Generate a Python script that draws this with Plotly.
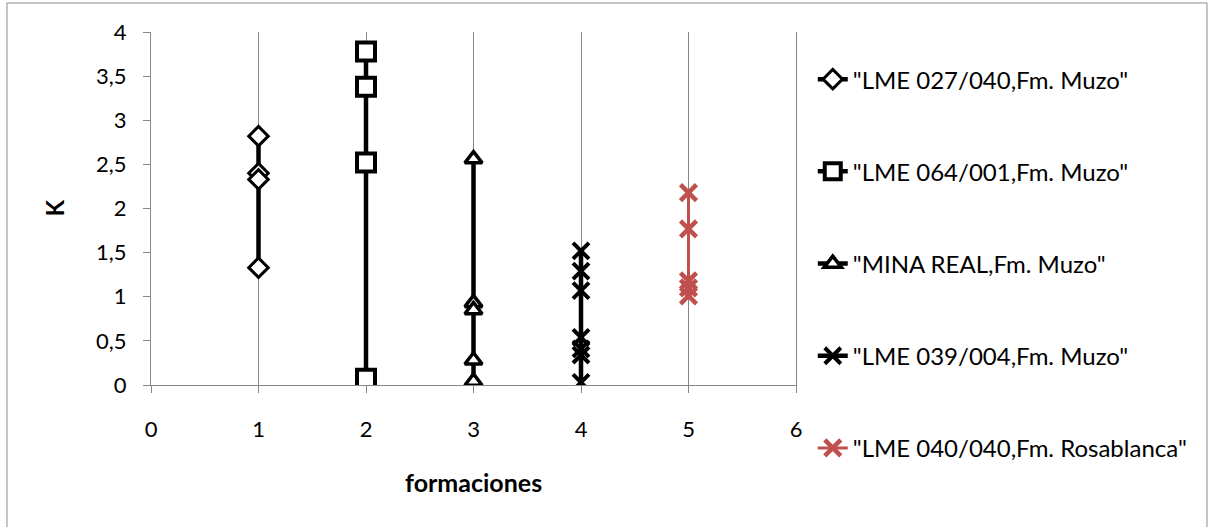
import plotly.graph_objects as go

# K values per formation sample
s1_name = '"LME 027/040,Fm. Muzo"'
s1_x = [1, 1, 1, 1]
s1_y = [2.82, 2.40, 2.33, 1.33]

s2_name = '"LME 064/001,Fm. Muzo"'
s2_x = [2, 2, 2, 2]
s2_y = [3.78, 3.38, 2.52, 0.07]

s3_name = '"MINA REAL,Fm. Muzo"'
s3_x = [3, 3, 3, 3, 3]
s3_y = [2.56, 0.93, 0.85, 0.28, 0.04]

s4_name = '"LME 039/004,Fm. Muzo"'
s4_x = [4, 4, 4, 4, 4, 4, 4]
s4_y = [1.52, 1.29, 1.07, 0.54, 0.41, 0.34, 0.03]

s5_name = '"LME 040/040,Fm. Rosablanca"'
s5_x = [5, 5, 5, 5, 5]
s5_y = [2.18, 1.77, 1.18, 1.10, 1.01]

x_ticks = [0, 1, 2, 3, 4, 5, 6]
x_labels = ["0", "1", "2", "3", "4", "5", "6"]
y_ticks = [0, 0.5, 1, 1.5, 2, 2.5, 3, 3.5, 4]
y_labels = ["0", "0,5", "1", "1,5", "2", "2,5", "3", "3,5", "4"]

FONT = "Lato"
BLACK = "#000000"
RED = "#C0504D"
GREY = "#868686"

fig = go.Figure()

fig.add_trace(go.Scatter(
    x=s1_x, y=s1_y, name=s1_name, mode="lines+markers", legendgroup="a",
    line=dict(color=BLACK, width=4.5),
    marker=dict(symbol="diamond", size=15, color="white",
                line=dict(color=BLACK, width=3))))
fig.add_trace(go.Scatter(
    x=s2_x, y=s2_y, name=s2_name, mode="lines+markers", legendgroup="b",
    line=dict(color=BLACK, width=4.5),
    marker=dict(symbol="square", size=18, color="white",
                line=dict(color=BLACK, width=4))))
fig.add_trace(go.Scatter(
    x=s3_x, y=s3_y, name=s3_name, mode="lines+markers", legendgroup="c",
    line=dict(color=BLACK, width=4.5),
    marker=dict(symbol="triangle-up", size=15, color="white",
                line=dict(color=BLACK, width=3.5))))
fig.add_trace(go.Scatter(
    x=s4_x, y=s4_y, name=s4_name, mode="lines+markers", legendgroup="d",
    line=dict(color=BLACK, width=4.5),
    marker=dict(symbol="x-thin", size=16, color=BLACK,
                line=dict(color=BLACK, width=4))))
fig.add_trace(go.Scatter(
    x=s5_x, y=s5_y, name=s5_name, mode="lines+markers", legendgroup="e",
    line=dict(color=RED, width=3),
    marker=dict(symbol="x-thin", size=16, color=RED,
                line=dict(color=RED, width=4.5))))

# outer chart frame
fig.add_shape(type="rect", xref="paper", yref="paper",
              x0=-0.2233, x1=1.6372, y0=-0.42, y1=1.0822,
              line=dict(color="#8C8C8C", width=1), fillcolor="rgba(0,0,0,0)",
              layer="below")

fig.add_annotation(text="<b>K</b>", xref="paper", yref="paper",
                   x=0, y=0.5, xshift=-97, xanchor="center", yanchor="middle",
                   textangle=-90, showarrow=False,
                   font=dict(family=FONT, size=24, color=BLACK))
fig.add_annotation(text="<b>formaciones</b>", xref="paper", yref="paper",
                   x=0.5, y=0, yshift=-97, xanchor="center", yanchor="middle",
                   showarrow=False,
                   font=dict(family=FONT, size=25, color=BLACK))

fig.update_layout(
    width=1211, height=527,
    margin=dict(l=151, r=415, t=32, b=142),
    paper_bgcolor="white", plot_bgcolor="white",
    font=dict(family=FONT, size=22, color=BLACK),
    showlegend=True,
    legend=dict(x=1.026, xanchor="left", y=0.929, yanchor="top",
                maxheight=520, tracegroupgap=58,
                font=dict(family=FONT, size=24, color=BLACK),
                bgcolor="rgba(0,0,0,0)"),
    xaxis=dict(range=[0, 6], tickvals=x_ticks, ticktext=x_labels,
               showgrid=True, gridcolor=GREY, gridwidth=1.3,
               showline=True, linecolor=GREY, linewidth=1.3,
               ticks="outside", ticklen=7, tickcolor=GREY, tickwidth=1.3,
               zeroline=False, ticklabelstandoff=17),
    yaxis=dict(range=[0, 4], tickvals=y_ticks, ticktext=y_labels,
               showgrid=False, showline=True, linecolor=GREY, linewidth=1.3,
               mirror=True,
               ticks="outside", ticklen=7, tickcolor=GREY, tickwidth=1.3,
               zeroline=False, ticklabelstandoff=12),
)

fig.write_html("out.html")
